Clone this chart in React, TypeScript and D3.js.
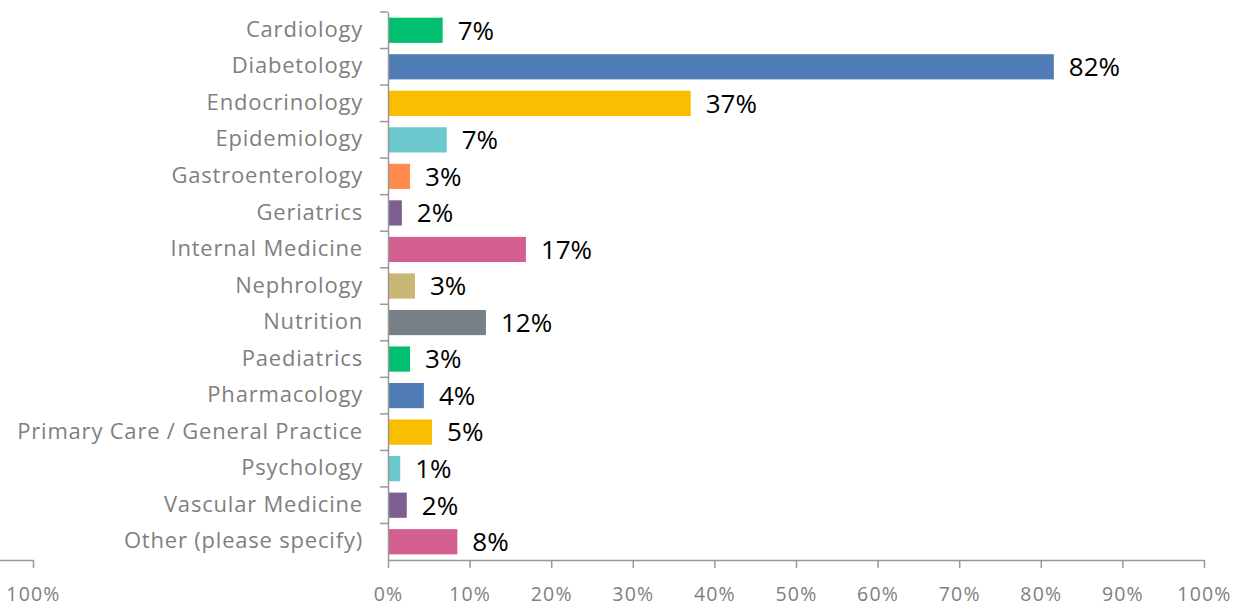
import React, { useEffect, useRef } from "react";
import * as d3 from "d3";

const categories = [
  "Cardiology",
  "Diabetology",
  "Endocrinology",
  "Epidemiology",
  "Gastroenterology",
  "Geriatrics",
  "Internal Medicine",
  "Nephrology",
  "Nutrition",
  "Paediatrics",
  "Pharmacology",
  "Primary Care / General Practice",
  "Psychology",
  "Vascular Medicine",
  "Other (please specify)",
];
const values = [6.7, 81.6, 37.1, 7.2, 2.7, 1.7, 16.9, 3.3, 12.0, 2.7, 4.4, 5.4, 1.5, 2.3, 8.5];
const valueLabels = ["7%", "82%", "37%", "7%", "3%", "2%", "17%", "3%", "12%", "3%", "4%", "5%", "1%", "2%", "8%"];
const barColors = [
  "#00BF6F", "#507CB6", "#F9BE00", "#6BC8CD", "#FF8B4F", "#7D5E90", "#D25F90", "#C8B675",
  "#768086", "#00BF6F", "#507CB6", "#F9BE00", "#6BC8CD", "#7D5E90", "#D25F90",
];
const xTicks = [0, 10, 20, 30, 40, 50, 60, 70, 80, 90, 100];

const W = 1237;
const H = 607;
const FONT = "'Open Sans', sans-serif";

export default function App() {
  const ref = useRef<SVGSVGElement>(null);
  useEffect(() => {
    const svg = d3.select(ref.current);
    svg.selectAll("*").remove();
    const left = 388, right = 1204, top = 12, bottom = 560;
    const x = d3.scaleLinear().domain([0, 100]).range([left, right]);
    const y = d3.scaleBand<string>().domain(categories).range([top, bottom]).paddingInner(0.31).paddingOuter(0.155);
    const yb = d3.scaleBand<string>().domain(categories).range([top, bottom]);

    // bars
    svg.append("g").selectAll("rect").data(categories).join("rect")
      .attr("x", left + 1)
      .attr("y", (d) => y(d)!)
      .attr("height", y.bandwidth())
      .attr("width", (_d, i) => Math.max(0, x(values[i]) - left - 1))
      .attr("fill", (_d, i) => barColors[i]);

    // value labels
    const vfs = 26;
    svg.append("g").selectAll("text").data(categories).join("text")
      .attr("x", (_d, i) => x(values[i]) + 15)
      .attr("y", (d) => y(d)! + y.bandwidth() / 2 + vfs * 0.36)
      .attr("font-family", FONT)
      .attr("font-size", vfs)
      .attr("fill", "#000")
      .text((_d, i) => valueLabels[i]);

    // y axis
    const ya = svg.append("g").attr("transform", `translate(${left},0)`)
      .call(d3.axisLeft(yb).tickSize(0).tickPadding(25));
    ya.selectAll(".tick line").remove();
    ya.select(".domain").attr("stroke", "#999").attr("stroke-width", 1.5);
    ya.selectAll("text")
      .attr("font-family", FONT).attr("font-size", 22).attr("fill", "#7f7f7f")
      .attr("letter-spacing", 0.8).attr("dy", "0.3em");
    // boundary ticks
    const bounds = categories.map((c) => yb(c)!);
    svg.append("g").selectAll("line").data(bounds).join("line")
      .attr("x1", left - 8).attr("x2", left)
      .attr("y1", (d) => d).attr("y2", (d) => d)
      .attr("stroke", "#999").attr("stroke-width", 1.5);

    // x axis
    const styleX = (g: any) => {
      g.selectAll("line").attr("stroke", "#999").attr("stroke-width", 1.5);
      g.select(".domain").attr("stroke", "#999").attr("stroke-width", 1.5);
      g.selectAll("text").attr("font-family", FONT).attr("font-size", 19.5).attr("fill", "#7f7f7f")
        .attr("letter-spacing", 1.2);
    };
    const xa = svg.append("g").attr("transform", `translate(0,${bottom})`)
      .call(d3.axisBottom(x).tickValues(xTicks).tickSize(8).tickSizeOuter(0).tickPadding(19).tickFormat((d) => `${d}%`));
    styleX(xa);

    // stray left axis fragment
    const x2 = d3.scaleLinear().domain([0, 100]).range([33 - (right - left), 33]);
    const xa2 = svg.append("g").attr("transform", `translate(0,${bottom})`)
      .call(d3.axisBottom(x2).tickValues([100]).tickSize(8).tickSizeOuter(0).tickPadding(19).tickFormat((d) => `${d}%`));
    styleX(xa2);
  }, []);
  return (
    <svg ref={ref} width={W} height={H} style={{ position: "absolute", left: 0, top: 0, background: "#fff" }} />
  );
}
